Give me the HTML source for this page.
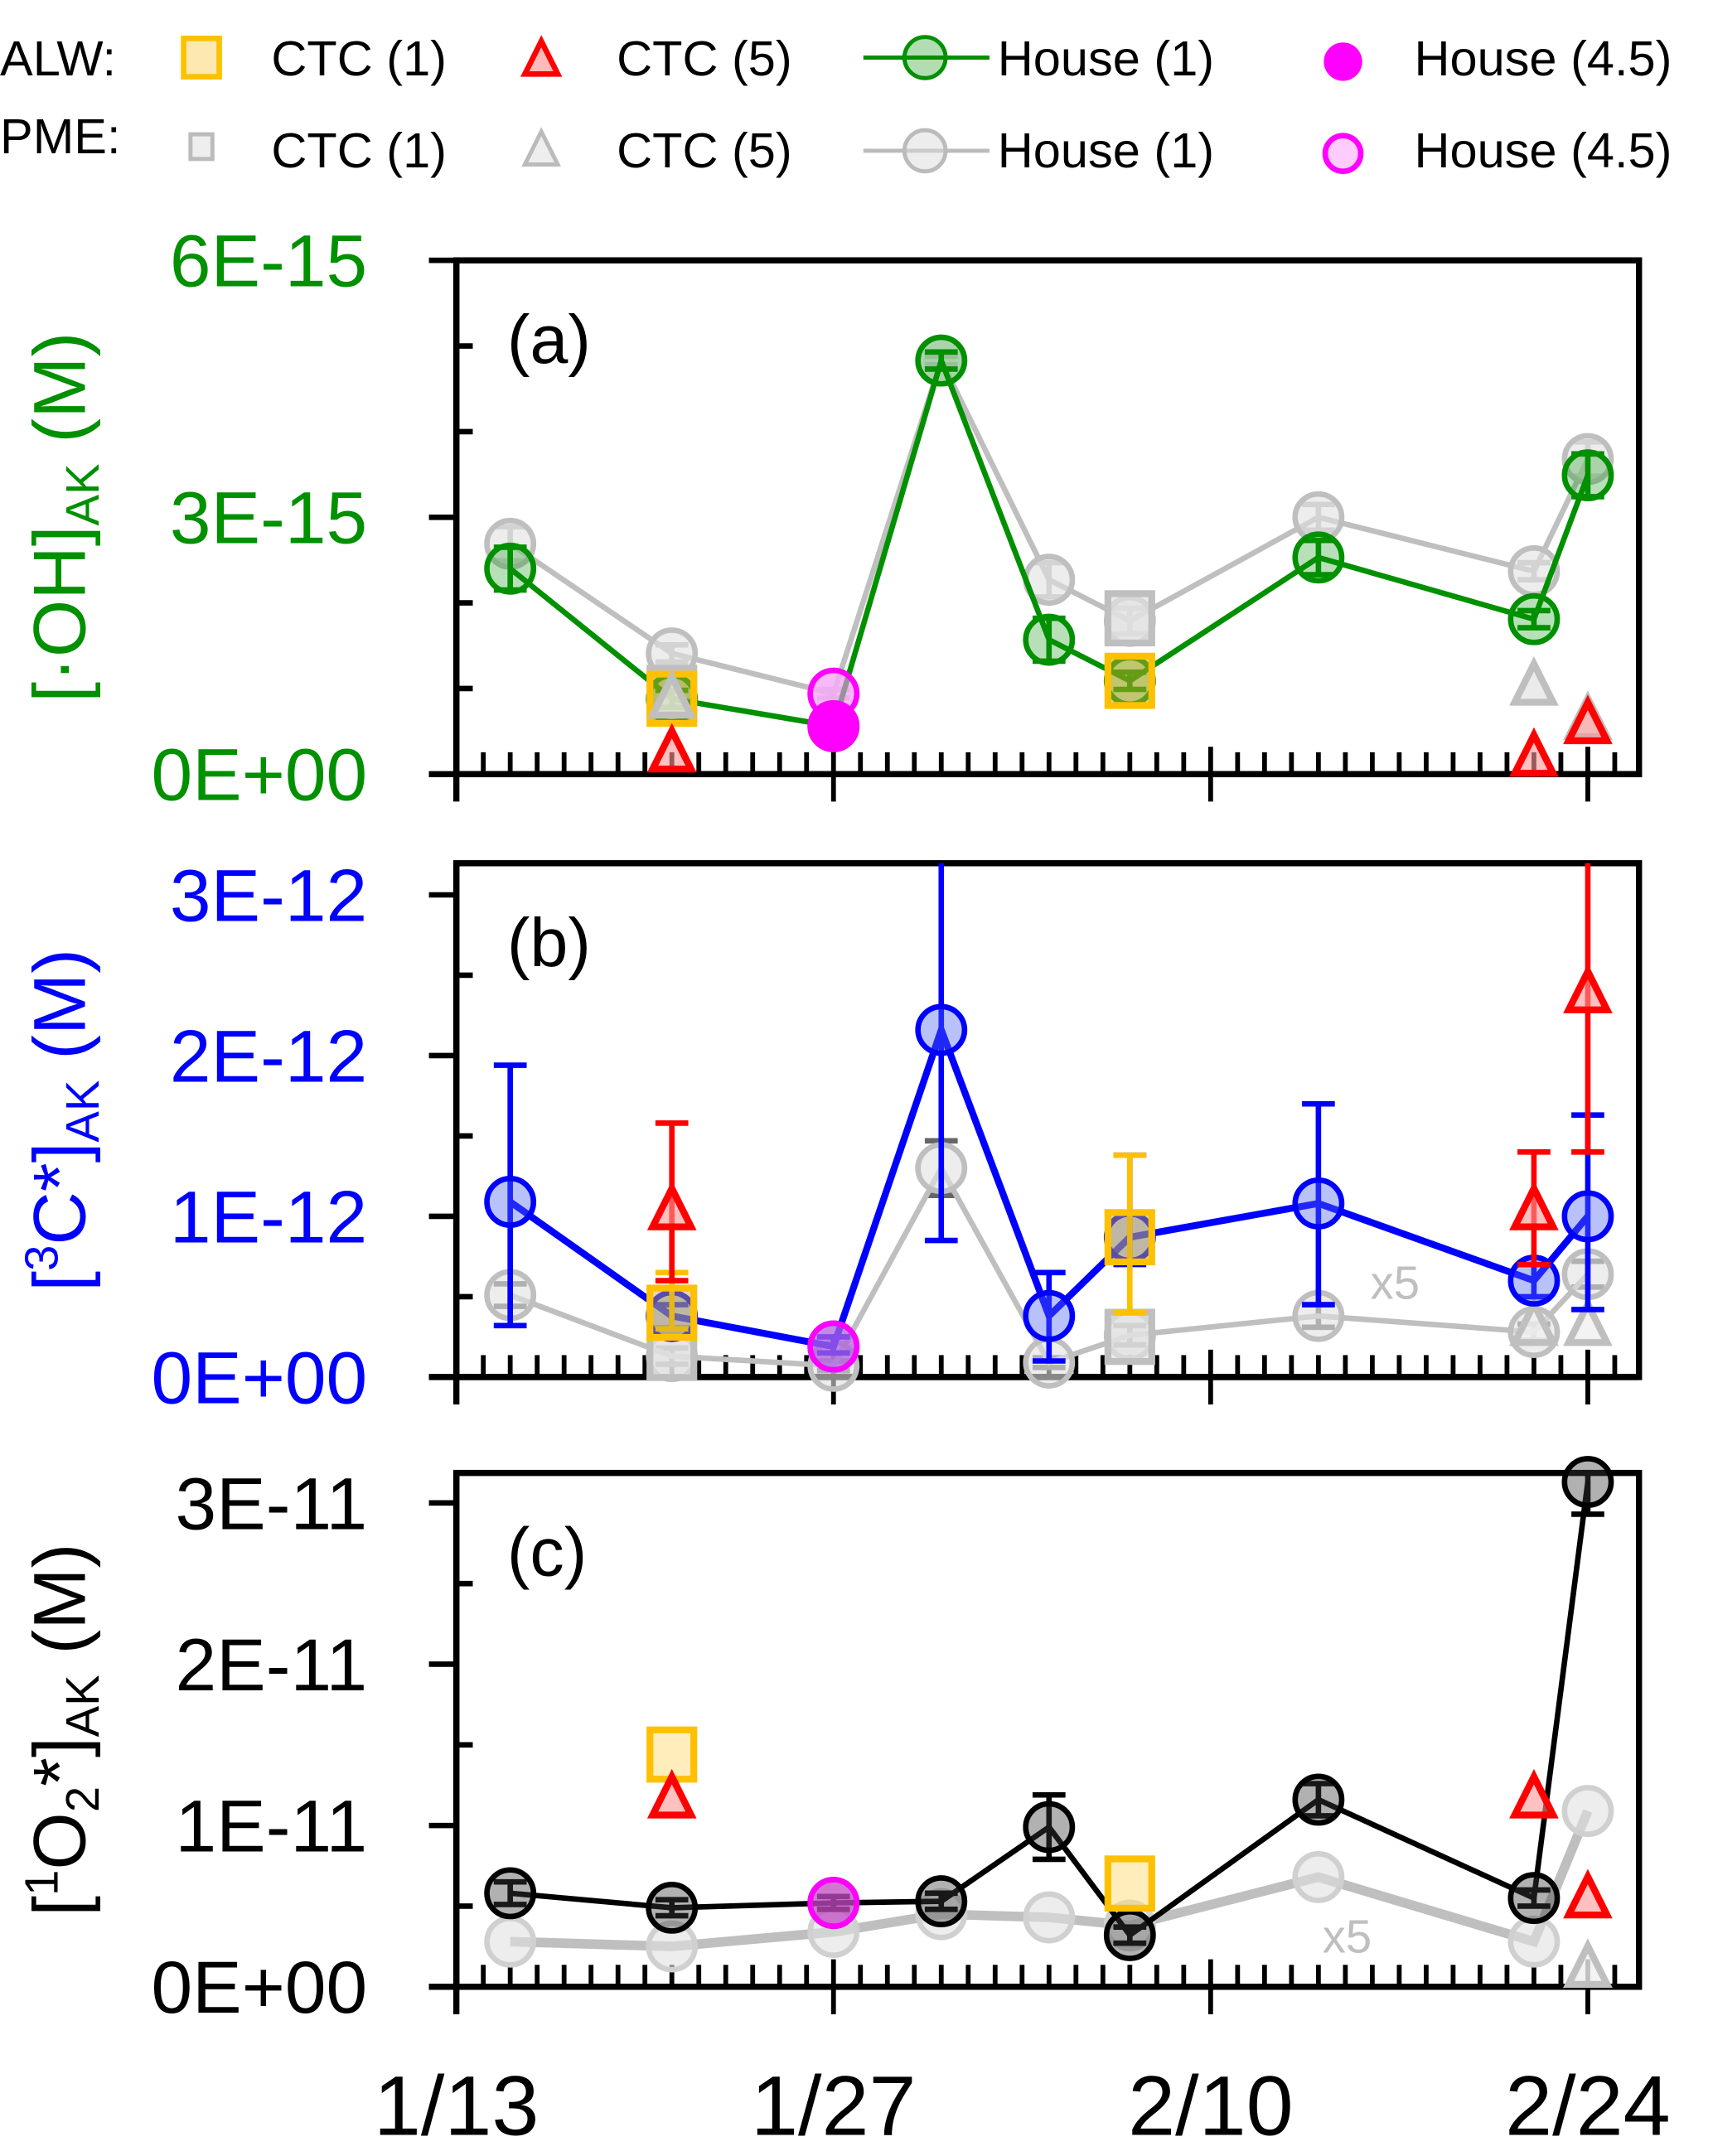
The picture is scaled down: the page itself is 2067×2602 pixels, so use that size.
<!DOCTYPE html>
<html><head><meta charset="utf-8"><style>
html,body{margin:0;padding:0;background:#fff;}
svg{display:block;font-family:"Liberation Sans",sans-serif;}
</style></head><body>
<svg id="chart" width="2067" height="2602" viewBox="0 0 1250 1573.5" xmlns="http://www.w3.org/2000/svg">
<g id="legend">
<text x="0" y="55" font-size="36">ALW:</text>
<text x="0" y="112" font-size="36">PME:</text>
<rect x="134" y="28" width="26" height="28" fill="#fde9b0" stroke="#ffc000" stroke-width="4"/>
<text x="198" y="55" font-size="36">CTC (1)</text>
<polygon points="395,30 383,54 407,54" fill="#fbb" stroke="#f00" stroke-width="4"/>
<text x="450" y="55" font-size="36">CTC (5)</text>
<line x1="630" y1="42" x2="722" y2="42" stroke="#009000" stroke-width="3"/>
<circle cx="675" cy="42" r="15" fill="rgba(0,144,0,0.3)" stroke="#009000" stroke-width="3"/>
<text x="728" y="55" font-size="36">House (1)</text>
<circle cx="980" cy="45" r="14" fill="#f0f"/>
<text x="1032" y="55" font-size="36">House (4.5)</text>
<rect x="139" y="98" width="16" height="18" fill="#eee" stroke="#bbb" stroke-width="3"/>
<text x="198" y="122" font-size="36">CTC (1)</text>
<polygon points="395,96 383,120 407,120" fill="#eee" stroke="#bbb" stroke-width="3"/>
<text x="450" y="122" font-size="36">CTC (5)</text>
<line x1="630" y1="110" x2="722" y2="110" stroke="#bbb" stroke-width="3"/>
<circle cx="675" cy="110" r="15" fill="rgba(220,220,220,0.5)" stroke="#bbb" stroke-width="3"/>
<text x="728" y="122" font-size="36">House (1)</text>
<circle cx="980" cy="112" r="13" fill="#fcf" stroke="#f0f" stroke-width="4"/>
<text x="1032" y="122" font-size="36">House (4.5)</text>
</g>
</svg>
<script>
// shared x data (days since 1/13)
const days = [2, 8, 14, 18, 22, 25, 32, 40, 42];
const xTickLabels = ["1/13", "1/27", "2/10", "2/24"];
const xTickDays = [0, 14, 28, 42];

// Panel a (units 1E-15)
const aAlwHouse = [2.4, 0.88, 0.56, 4.83, 1.57, 1.09, 2.53, 1.81, 3.49];
const aAlwHouseErr = [0.25, 0.1, 0.05, 0.1, 0.25, 0.1, 0.2, 0.1, 0.25];
const aPmeHouse = [2.69, 1.41, 0.94, 4.83, 2.27, 1.79, 3.0, 2.37, 3.68];
const aPmeHouseErr = [0.2, 0.1, 0.05, 0.05, 0.2, 0.15, 0.15, 0.1, 0.2];
const aAlwCtc1Days = [8, 25];
const aAlwCtc1 = [0.88, 1.09];
const aPmeCtc1Days = [8, 25];
const aPmeCtc1 = [0.95, 1.82];
const aAlwCtc5Days = [8, 40, 42];
const aAlwCtc5 = [0.22, 0.17, 0.55];
const aPmeCtc5Days = [8, 40, 42];
const aPmeCtc5 = [0.85, 1.0, 0.6];
const aHouse45Day = [14];
const aAlwHouse45 = [0.56];
const aPmeHouse45 = [0.94];
const aYTicks = ["0E+00", "3E-15", "6E-15"];

// Panel b (units 1E-12)
const bAlwHouse = [1.09, 0.38, 0.19, 2.16, 0.38, 0.87, 1.08, 0.6, 1.0];
const bAlwHouseHi = [1.94, 0.45, 0.25, 3.3, 0.65, 1.38, 1.7, 0.7, 1.63];
const bAlwHouseLo = [0.32, 0.3, 0.15, 0.85, 0.1, 0.7, 0.45, 0.5, 0.42];
const bPmeHouse = [0.51, 0.13, 0.07, 1.3, 0.09, 0.26, 0.38, 0.28, 0.64];
const bPmeHouseHi = [0.58, 0.18, 0.1, 1.47, 0.12, 0.32, 0.45, 0.33, 0.72];
const bPmeHouseLo = [0.44, 0.08, 0.04, 1.13, 0.06, 0.2, 0.31, 0.23, 0.56];
const bAlwCtc1Days = [8, 25];
const bAlwCtc1 = [0.4, 0.87];
const bAlwCtc1Hi = [0.65, 1.38];
const bAlwCtc1Lo = [0.3, 0.4];
const bPmeCtc1Days = [8, 25];
const bPmeCtc1 = [0.15, 0.25];
const bAlwCtc5Days = [8, 40, 42];
const bAlwCtc5 = [1.02, 1.02, 2.37];
const bAlwCtc5Hi = [1.58, 1.4, 3.3];
const bAlwCtc5Lo = [0.6, 0.7, 1.4];
const bPmeCtc5Days = [40, 42];
const bPmeCtc5 = [0.3, 0.3];
const bHouse45Day = [14];
const bPmeHouse45 = [0.19];
const bYTicks = ["0E+00", "1E-12", "2E-12", "3E-12"];

// Panel c (units 1E-11)
const cAlwHouse = [0.58, 0.49, 0.52, 0.53, 0.99, 0.32, 1.16, 0.55, 3.13];
const cAlwHouseErr = [0.07, 0.05, 0.04, 0.05, 0.2, 0.05, 0.1, 0.05, 0.2];
const cPmeHouse = [0.28, 0.25, 0.34, 0.45, 0.43, 0.38, 0.68, 0.28, 1.09];
const cAlwCtc1Days = [8, 25];
const cAlwCtc1 = [1.44, 0.64];
const cAlwCtc5Days = [8, 40, 42];
const cAlwCtc5 = [1.15, 1.15, 0.53];
const cPmeCtc5Days = [42];
const cPmeCtc5 = [0.1];
const cHouse45Day = [14];
const cPmeHouse45 = [0.52];
const cYTicks = ["0E+00", "1E-11", "2E-11", "3E-11"];

const NS = "http://www.w3.org/2000/svg";
const svg = document.getElementById("chart");
const X0 = 333, X1 = 1196, DMAX = 43.9;
function xs(d){ return X0 + d * (X1 - X0) / DMAX; }
function mk(tag, attrs, parent){
  const e = document.createElementNS(NS, tag);
  for (const k in attrs) e.setAttribute(k, attrs[k]);
  (parent || svg).appendChild(e);
  return e;
}

function panel(cfg){
  const g = mk("g", {});
  
  
  const ys = v => cfg.bottom - v * cfg.pxPerUnit;
  cfg.ys = ys; cfg.g = g;
  const box = mk("rect", {x: X0, y: cfg.top, width: X1 - X0, height: cfg.bottom - cfg.top, fill: "none", stroke: "#000", "stroke-width": 4.5}, g);
  
  
  const nMinor = (cfg.yTicks.length - 1) * cfg.minorPer;
  for (let i = 0; i <= nMinor; i++){
    const v = i / cfg.minorPer * cfg.labelStep;
    const y = ys(v);
    if (y < cfg.top - 1) continue;
    const major = i % cfg.minorPer === 0;
    const t = mk("line", {x1: major ? X0 - 20 : X0 - 2, x2: major ? X0 : X0 + 12, y1: y, y2: y, stroke: "#000", "stroke-width": 4}, g);
    
    
  }
  cfg.yTicks.forEach((lab, i) => {
    const t = mk("text", {x: 268, y: ys(i * cfg.labelStep) + 19, "font-size": 54, "text-anchor": "end", fill: cfg.color}, g);
    t.textContent = lab;
    
    
  });
  for (let d = 1; d < DMAX; d++){
    const major = xTickDays.includes(d);
    const t = mk("line", {x1: xs(d), x2: xs(d), y1: major ? cfg.bottom - 20 : cfg.bottom - 16, y2: major ? cfg.bottom + 20 : cfg.bottom, stroke: "#000", "stroke-width": 3.5}, g);
    
    
  }
  const base = mk("line", {x1: X0 - 20, x2: X1, y1: cfg.bottom, y2: cfg.bottom, stroke: "#000", "stroke-width": 4.5}, g);
  
  
  const lt = mk("line", {x1: X0, x2: X0, y1: cfg.top, y2: cfg.bottom + 20, stroke: "#000", "stroke-width": 4.5}, g);
  
  
  const pl = mk("text", {x: 370, y: cfg.top + 75, "font-size": 50}, g);
  pl.textContent = "(" + cfg.id + ")";
  
  
  const at = mk("text", {transform: "translate(" + cfg.titleX + "," + ((cfg.top + cfg.bottom) / 2) + ") rotate(-90)", "font-size": 54, "text-anchor": "middle", fill: cfg.titleColor}, g);
  at.innerHTML = cfg.title;
  
  
  return cfg;
}

function clipY(cfg, y){ return Math.max(cfg.top, y); }
function errbar(cfg, d, lo, hi, color, name){
  const x = xs(d), y1 = clipY(cfg, cfg.ys(hi)), y2 = cfg.ys(lo);
  const e = mk("path", {d: "M" + x + " " + y1 + "V" + y2 + (cfg.ys(hi) >= cfg.top ? "M" + (x - 12) + " " + y1 + "H" + (x + 12) : "") + "M" + (x - 12) + " " + y2 + "H" + (x + 12), stroke: color, "stroke-width": 4, fill: "none"}, cfg.g);
  
  
}
function line(cfg, ds, vals, color, w, name){
  const pts = ds.map((d, i) => xs(d) + "," + cfg.ys(vals[i])).join(" ");
  const l = mk("polyline", {points: pts, fill: "none", stroke: color, "stroke-width": w}, cfg.g);
  
  
}
function marker(cfg, shape, d, v, fill, stroke, name, r){
  const x = xs(d), y = cfg.ys(v); r = r || 17;
  let e;
  if (shape === "c") e = mk("circle", {cx: x, cy: y, r: r, fill: fill, stroke: stroke, "stroke-width": 4}, cfg.g);
  else if (shape === "s") e = mk("rect", {x: x - 16, y: y - 18, width: 32, height: 36, fill: fill, stroke: stroke, "stroke-width": 5}, cfg.g);
  else e = mk("polygon", {points: x + "," + (y - 18) + " " + (x - 14) + "," + (y + 10) + " " + (x + 14) + "," + (y + 10), fill: fill, stroke: stroke, "stroke-width": 5}, cfg.g);
  
  
}

const GREEN = "#009000", GRAY = "#bfbfbf", BLUE = "#0000ff", RED = "#ff0000", YEL = "#ffc000", MAG = "#ff00ff";

// ---- Panel a
const A = panel({id: "a", top: 190, bottom: 565, pxPerUnit: 62.5, labelStep: 3, minorPer: 3, yTicks: aYTicks, color: GREEN, titleColor: GREEN, titleX: 62,
  title: '[·OH]<tspan font-size="34" dy="10">AK</tspan><tspan dy="-10"> (M)</tspan>'});
days.forEach((d, i) => errbar(A, d, aPmeHouse[i] - aPmeHouseErr[i], aPmeHouse[i] + aPmeHouseErr[i], GRAY, 'error-bar-pme-house'));
line(A, days, aPmeHouse, GRAY, 4, 'line-pme-house1');
days.forEach((d, i) => marker(A, "c", d, aPmeHouse[i], "rgba(225,225,225,0.6)", GRAY, 'point-pme-house1'));
aPmeCtc1Days.forEach((d, i) => marker(A, "s", d, aPmeCtc1[i], "rgba(225,225,225,0.7)", GRAY, 'point-pme-ctc1'));
days.forEach((d, i) => errbar(A, d, aAlwHouse[i] - aAlwHouseErr[i], aAlwHouse[i] + aAlwHouseErr[i], GREEN, 'error-bar-alw-house'));
line(A, days, aAlwHouse, GREEN, 4, 'line-alw-house1');
days.forEach((d, i) => marker(A, "c", d, aAlwHouse[i], "rgba(0,144,0,0.28)", GREEN, 'point-alw-house1'));
aAlwCtc1Days.forEach((d, i) => marker(A, "s", d, aAlwCtc1[i], "rgba(200,170,40,0.5)", YEL, 'point-alw-ctc1'));
aPmeCtc5Days.forEach((d, i) => marker(A, "t", d, aPmeCtc5[i], "rgba(230,230,230,0.8)", GRAY, 'point-pme-ctc5'));
aAlwCtc5Days.forEach((d, i) => marker(A, "t", d, aAlwCtc5[i], "rgba(255,150,150,0.6)", RED, 'point-alw-ctc5'));
aHouse45Day.forEach((d, i) => { marker(A, "c", d, aPmeHouse45[i], "rgba(255,150,255,0.6)", MAG, 'point-pme-house45');
  marker(A, "c", d, aAlwHouse45[i], MAG, MAG, 'point-alw-house45'); });

// ---- Panel b
const B = panel({id: "b", top: 630, bottom: 1005, pxPerUnit: 117.3, labelStep: 1, minorPer: 2, yTicks: bYTicks, color: BLUE, titleColor: BLUE, titleX: 62,
  title: '[<tspan font-size="34" dy="-20">3</tspan><tspan dy="20">C*]</tspan><tspan font-size="34" dy="10">AK</tspan><tspan dy="-10"> (M)</tspan>'});
days.forEach((d, i) => errbar(B, d, bPmeHouseLo[i], bPmeHouseHi[i], "#666", 'error-bar-pme-house'));
line(B, days, bPmeHouse, GRAY, 4, 'line-pme-house1');
days.forEach((d, i) => marker(B, "c", d, bPmeHouse[i], "rgba(225,225,225,0.6)", GRAY, 'point-pme-house1'));
bPmeCtc1Days.forEach((d, i) => marker(B, "s", d, bPmeCtc1[i], "rgba(225,225,225,0.7)", GRAY, 'point-pme-ctc1'));
bPmeCtc5Days.forEach((d, i) => marker(B, "t", d, bPmeCtc5[i], "rgba(240,240,240,0.8)", GRAY, 'point-pme-ctc5'));
days.forEach((d, i) => errbar(B, d, bAlwHouseLo[i], bAlwHouseHi[i], BLUE, 'error-bar-alw-house'));
line(B, days, bAlwHouse, BLUE, 5, 'line-alw-house1');
days.forEach((d, i) => marker(B, "c", d, bAlwHouse[i], "rgba(80,100,240,0.4)", BLUE, 'point-alw-house1'));
bAlwCtc1Days.forEach((d, i) => { errbar(B, d, bAlwCtc1Lo[i], bAlwCtc1Hi[i], YEL, 'error-bar-alw-ctc1');
  marker(B, "s", d, bAlwCtc1[i], "rgba(200,170,60,0.45)", YEL, 'point-alw-ctc1'); });
bAlwCtc5Days.forEach((d, i) => { errbar(B, d, bAlwCtc5Lo[i], bAlwCtc5Hi[i], RED, 'error-bar-alw-ctc5');
  marker(B, "t", d, bAlwCtc5[i], "rgba(255,150,150,0.6)", RED, 'point-alw-ctc5'); });
bHouse45Day.forEach((d, i) => marker(B, "c", d, bPmeHouse45[i], "rgba(200,100,220,0.6)", MAG, 'point-pme-house45'));
const x5b = mk("text", {x: 1000, y: 948, "font-size": 34, fill: GRAY});
x5b.textContent = "x5";



// ---- Panel c
const C = panel({id: "c", top: 1075, bottom: 1450, pxPerUnit: 117.7, labelStep: 1, minorPer: 2, yTicks: cYTicks, color: "#000", titleColor: "#000", titleX: 62,
  title: '[<tspan font-size="34" dy="-20">1</tspan><tspan dy="20">O</tspan><tspan font-size="34" dy="10">2</tspan><tspan dy="-10">*]</tspan><tspan font-size="34" dy="10">AK</tspan><tspan dy="-10"> (M)</tspan>'});
line(C, days, cPmeHouse, GRAY, 7, 'line-pme-house1');
days.forEach((d, i) => marker(C, "c", d, cPmeHouse[i], "rgba(225,225,225,0.6)", "#d0d0d0", 'point-pme-house1'));
cPmeCtc5Days.forEach((d, i) => marker(C, "t", d, cPmeCtc5[i], "rgba(240,240,240,0.8)", GRAY, 'point-pme-ctc5'));
days.forEach((d, i) => errbar(C, d, cAlwHouse[i] - cAlwHouseErr[i], cAlwHouse[i] + cAlwHouseErr[i], "#000", 'error-bar-alw-house'));
line(C, days, cAlwHouse, "#000", 4, 'line-alw-house1');
days.forEach((d, i) => marker(C, "c", d, cAlwHouse[i], "rgba(60,60,60,0.4)", "#000", 'point-alw-house1'));
cAlwCtc1Days.forEach((d, i) => marker(C, "s", d, cAlwCtc1[i], "rgba(255,220,120,0.5)", YEL, 'point-alw-ctc1'));
cAlwCtc5Days.forEach((d, i) => marker(C, "t", d, cAlwCtc5[i], "rgba(255,150,150,0.6)", RED, 'point-alw-ctc5'));
cHouse45Day.forEach((d, i) => marker(C, "c", d, cPmeHouse45[i], "rgba(230,80,230,0.6)", MAG, 'point-pme-house45'));
const x5c = mk("text", {x: 965, y: 1425, "font-size": 34, fill: GRAY});
x5c.textContent = "x5";



xTickLabels.forEach((lab, i) => {
  const t = mk("text", {x: xs(xTickDays[i]), y: 1558, "font-size": 62, "text-anchor": "middle"});
  t.textContent = lab;
  
  
});
</script>
</body></html>
